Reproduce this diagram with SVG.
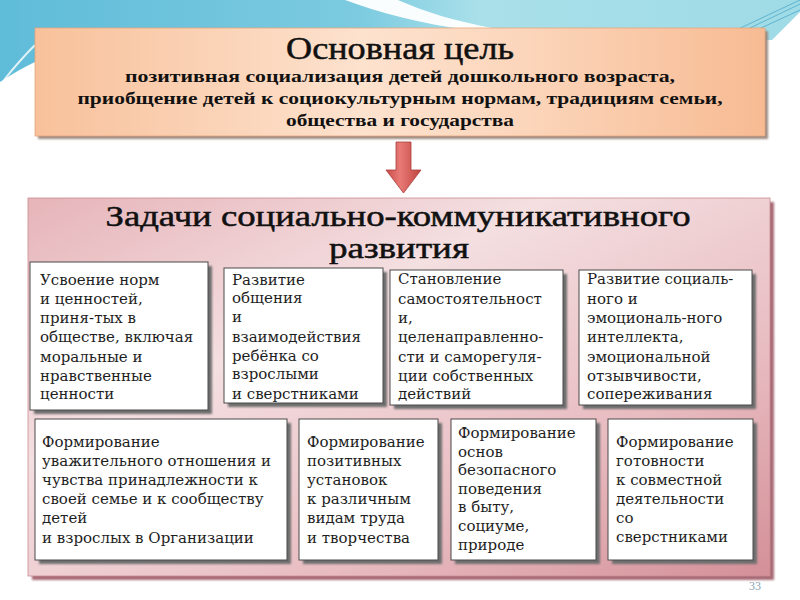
<svg xmlns="http://www.w3.org/2000/svg" width="800" height="600" viewBox="0 0 800 600">
  <defs>
    <linearGradient id="bandGrad" x1="0" y1="0" x2="1" y2="0">
      <stop offset="0" stop-color="#5fbcd9"/>
      <stop offset="0.45" stop-color="#7ccbe0"/>
      <stop offset="0.6" stop-color="#a9e0ea"/>
      <stop offset="1" stop-color="#9fdbe6"/>
    </linearGradient>
    <linearGradient id="goalGrad" x1="0" y1="0" x2="1" y2="0">
      <stop offset="0" stop-color="#f8c19b"/>
      <stop offset="0.45" stop-color="#fde2ce"/>
      <stop offset="0.65" stop-color="#fcd7bd"/>
      <stop offset="1" stop-color="#f7bb93"/>
    </linearGradient>
    <linearGradient id="taskGrad" x1="0" y1="0" x2="1" y2="1">
      <stop offset="0" stop-color="#e6b4b9"/>
      <stop offset="0.35" stop-color="#f4dfe1"/>
      <stop offset="0.7" stop-color="#e8bcc1"/>
      <stop offset="1" stop-color="#d48f98"/>
    </linearGradient>
    <linearGradient id="arrowGrad" x1="0" y1="0" x2="1" y2="0">
      <stop offset="0" stop-color="#c94a48"/>
      <stop offset="0.4" stop-color="#e87a76"/>
      <stop offset="1" stop-color="#c0433f"/>
    </linearGradient>
    <filter id="blur" x="-10%" y="-10%" width="120%" height="120%">
      <feGaussianBlur stdDeviation="1.2"/>
    </filter>
  </defs>
  <style>
    .head { font-family: "Liberation Serif", "DejaVu Serif", serif; font-weight: bold; fill: #111; text-anchor: middle; }
    .title { font-family: "Liberation Serif", "DejaVu Serif", serif; font-weight: normal; fill: #111; text-anchor: middle; stroke: #111; stroke-width: 0.5; }
    .item { font-family: "DejaVu Serif", "Liberation Serif", serif; font-size: 15px; fill: #1e1e1e; }
    .card { fill: #ffffff; stroke: #4a4a4a; stroke-width: 1; }
    .cardShadow { fill: #6e6e6e; filter: url(#blur); }
  </style>

  <!-- background decoration -->
  <rect width="800" height="600" fill="#ffffff"/>
  <path d="M0,0 H800 V12 L772,40 H35 V62 Q18,70 0,82 Z" fill="url(#bandGrad)"/>
  <path d="M345,0 H398 C425,12 455,21 492,28 L470,30 C420,24 378,12 345,0 Z" fill="#ffffff" opacity="0.95"/>
  <path d="M800,4 L725,40 M800,10 L735,40 M800,0 L715,40" stroke="#3b9ec4" stroke-width="0.8" fill="none" opacity="0.8"/>
  <path d="M35,45 Q20,60 4,80" stroke="#ffffff" stroke-width="2" fill="none" opacity="0.8"/>
  <path d="M225,38 Q240,34 258,38 L256,42 Q240,39 226,42 Z" fill="#ffffff" opacity="0.8"/>

  <!-- main goal -->
  <g id="goal">
    <rect x="38" y="31" width="730" height="108" fill="#9b8a80" filter="url(#blur)"/>
    <rect x="35" y="28" width="730" height="108" fill="url(#goalGrad)" stroke="#e5a67d" stroke-width="0.8"/>
    <text class="title" x="400" y="59" font-size="31" textLength="228" lengthAdjust="spacingAndGlyphs">Основная цель</text>
    <text class="head" x="400" y="82" font-size="17" textLength="550" lengthAdjust="spacingAndGlyphs">позитивная социализация детей дошкольного возраста,</text>
    <text class="head" x="400" y="104" font-size="17" textLength="645" lengthAdjust="spacingAndGlyphs">приобщение детей к социокультурным нормам, традициям семьи,</text>
    <text class="head" x="400" y="126" font-size="17" textLength="228" lengthAdjust="spacingAndGlyphs">общества и государства</text>
  </g>

  <!-- connector -->
  <g id="connectors">
    <path d="M396,142 H411 V170 H421 L403.5,193 L386,170 H396 Z" fill="url(#arrowGrad)" stroke="#a8403c" stroke-width="0.8"/>
  </g>

  <!-- tasks container -->
  <g id="tasks">
    <rect x="32" y="202" width="742" height="378" fill="#a86b74" filter="url(#blur)"/>
    <rect x="28" y="198" width="742" height="378" fill="url(#taskGrad)" stroke="#c98c93" stroke-width="0.8"/>
    <text class="title" x="398" y="226" font-size="29" textLength="585" lengthAdjust="spacingAndGlyphs">Задачи социально-коммуникативного</text>
    <text class="title" x="399" y="258" font-size="29" textLength="140" lengthAdjust="spacingAndGlyphs">развития</text>
  </g>

  <g id="task1">
    <rect class="cardShadow" x="34" y="266" width="178" height="148"/>
    <rect class="card" x="30" y="262" width="178" height="148"/>
    <text class="item"><tspan x="40" y="285">Усвоение норм</tspan><tspan x="40" y="304">и ценностей,</tspan><tspan x="40" y="323">приня-тых в</tspan><tspan x="40" y="342">обществе, включая</tspan><tspan x="40" y="362">моральные и</tspan><tspan x="40" y="381">нравственные</tspan><tspan x="40" y="399">ценности</tspan></text>
  </g>

  <g id="task2">
    <rect class="cardShadow" x="228" y="272" width="159" height="135"/>
    <rect class="card" x="224" y="268" width="159" height="135"/>
    <text class="item"><tspan x="232" y="285">Развитие</tspan><tspan x="232" y="303">общения</tspan><tspan x="232" y="322">и</tspan><tspan x="232" y="342">взаимодействия</tspan><tspan x="232" y="361">ребёнка со</tspan><tspan x="232" y="379">взрослыми</tspan><tspan x="232" y="399">и сверстниками</tspan></text>
  </g>

  <g id="task3">
    <rect class="cardShadow" x="394" y="274" width="173" height="135"/>
    <rect class="card" x="390" y="270" width="173" height="135"/>
    <text class="item"><tspan x="398" y="284">Становление</tspan><tspan x="398" y="304">самостоятельност</tspan><tspan x="398" y="323">и,</tspan><tspan x="398" y="342">целенаправленно-</tspan><tspan x="398" y="362">сти и саморегуля-</tspan><tspan x="398" y="381">ции собственных</tspan><tspan x="398" y="399">действий</tspan></text>
  </g>

  <g id="task4">
    <rect class="cardShadow" x="583" y="274" width="173" height="135"/>
    <rect class="card" x="579" y="270" width="173" height="135"/>
    <text class="item"><tspan x="587" y="284">Развитие социаль-</tspan><tspan x="587" y="304">ного и</tspan><tspan x="587" y="323">эмоциональ-ного</tspan><tspan x="587" y="342">интеллекта,</tspan><tspan x="587" y="362">эмоциональной</tspan><tspan x="587" y="381">отзывчивости,</tspan><tspan x="587" y="399">сопереживания</tspan></text>
  </g>

  <g id="task5">
    <rect class="cardShadow" x="39" y="423" width="252" height="141"/>
    <rect class="card" x="35" y="419" width="252" height="141"/>
    <text class="item"><tspan x="42" y="447">Формирование</tspan><tspan x="42" y="466">уважительного отношения и</tspan><tspan x="42" y="485">чувства принадлежности к</tspan><tspan x="42" y="504">своей семье и к сообществу</tspan><tspan x="42" y="523">детей</tspan><tspan x="42" y="543">и взрослых в Организации</tspan></text>
  </g>

  <g id="task6">
    <rect class="cardShadow" x="303" y="423" width="139" height="141"/>
    <rect class="card" x="299" y="419" width="139" height="141"/>
    <text class="item"><tspan x="307" y="447">Формирование</tspan><tspan x="307" y="466">позитивных</tspan><tspan x="307" y="485">установок</tspan><tspan x="307" y="504">к различным</tspan><tspan x="307" y="523">видам труда</tspan><tspan x="307" y="543">и творчества</tspan></text>
  </g>

  <g id="task7">
    <rect class="cardShadow" x="455" y="423" width="145" height="141"/>
    <rect class="card" x="451" y="419" width="145" height="141"/>
    <text class="item"><tspan x="458" y="438">Формирование</tspan><tspan x="458" y="457">основ</tspan><tspan x="458" y="475">безопасного</tspan><tspan x="458" y="494">поведения</tspan><tspan x="458" y="512">в быту,</tspan><tspan x="458" y="531">социуме,</tspan><tspan x="458" y="550">природе</tspan></text>
  </g>

  <g id="task8">
    <rect class="cardShadow" x="612" y="423" width="145" height="141"/>
    <rect class="card" x="608" y="419" width="145" height="141"/>
    <text class="item"><tspan x="616" y="447">Формирование</tspan><tspan x="616" y="466">готовности</tspan><tspan x="616" y="485">к совместной</tspan><tspan x="616" y="504">деятельности</tspan><tspan x="616" y="523">со</tspan><tspan x="616" y="542">сверстниками</tspan></text>
  </g>

  <text x="755" y="590" font-family="Liberation Serif, serif" font-size="12" fill="#8a9fb0" text-anchor="middle">33</text>
</svg>
